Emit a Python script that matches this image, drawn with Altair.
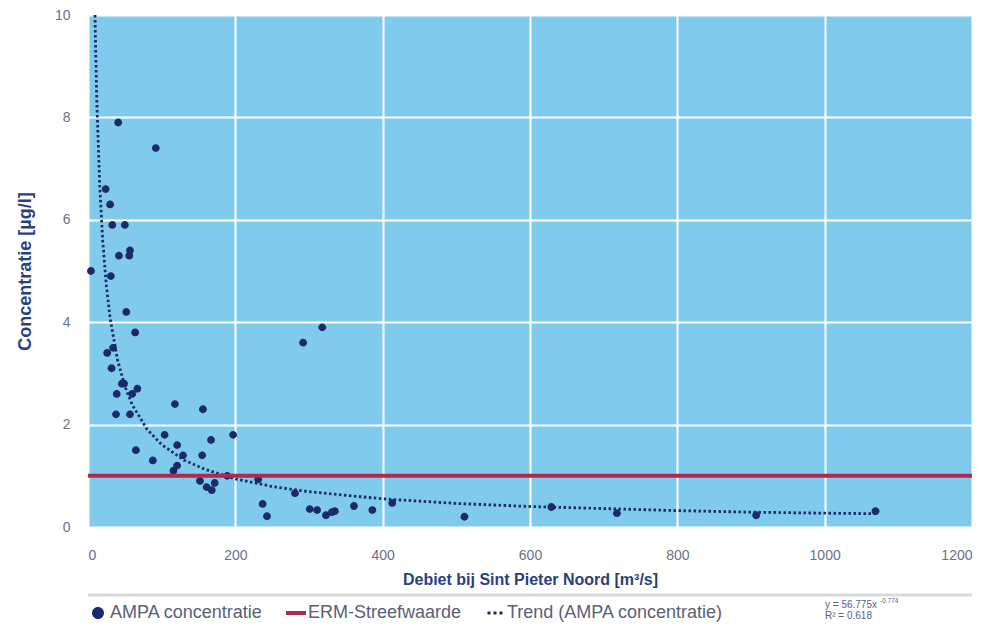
import altair as alt
import pandas as pd

# Scatter data: AMPA concentration vs discharge
flow = [4, 41, 92, 24, 30, 33, 50, 42, 56, 57, 31, 52, 64,
        26, 34, 32, 46, 49, 39, 60, 67, 38, 57, 65, 88, 104, 118, 121, 129, 121, 116,
        156, 167, 155, 152, 161, 168, 172, 197, 189, 231, 237, 243, 281, 292, 318,
        301, 311, 323, 331, 335, 361, 386, 413, 511, 629, 718, 907, 1069]
conc = [5.0, 7.9, 7.4, 6.6, 6.3, 5.9, 5.9, 5.3, 5.3, 5.4, 4.9, 4.2, 3.8,
        3.4, 3.5, 3.1, 2.8, 2.8, 2.6, 2.6, 2.7, 2.2, 2.2, 1.5, 1.3, 1.8, 2.4, 1.6, 1.4, 1.2, 1.1,
        2.3, 1.7, 1.4, 0.9, 0.78, 0.72, 0.86, 1.8, 1.0, 0.93, 0.45, 0.21, 0.66, 3.6, 3.9,
        0.35, 0.33, 0.23, 0.29, 0.31, 0.41, 0.33, 0.47, 0.2, 0.39, 0.27, 0.23, 0.31]

# Trend line (power fit) points
trend_x = [9.5, 10, 12, 16, 20, 25, 30, 40, 50, 60, 80, 100, 130, 160, 200, 250,
           300, 400, 500, 600, 700, 800, 900, 1000, 1070]
trend_y = [10.0, 9.56, 8.30, 6.64, 5.59, 4.70, 4.08, 3.27, 2.75, 2.39, 1.91, 1.61,
           1.31, 1.12, 0.94, 0.79, 0.69, 0.55, 0.46, 0.40, 0.36, 0.32, 0.29, 0.27, 0.26]

# ERM target value
erm_value = [1.0]

series_labels = ["AMPA concentratie", "ERM-Streefwaarde", "Trend (AMPA concentratie)"]
series_colors = ["#1B2A6B", "#B3294A", "#1B2A6B"]

x_ticks = [0, 200, 400, 600, 800, 1000, 1200]
y_ticks = [0, 2, 4, 6, 8, 10]

FONT = "Liberation Sans, Arial, sans-serif"
BG = "#80CBEC"
NAVY = "#1B2A6B"
TITLE_C = "#2B3F7C"
LABEL_C = "#6B7088"
LEG_C = "#596176"

pts = pd.DataFrame({"flow": flow, "conc": conc, "series": series_labels[0]})
trend = pd.DataFrame({"flow": trend_x, "conc": trend_y})
erm = pd.DataFrame({"conc": erm_value})

circle_path = "M0.6,0A0.6,0.6 0 1,1 -0.6,0A0.6,0.6 0 1,1 0.6,0Z"
bar_path = "M-1,-0.2H1V0.2H-1Z"
dots_path = ("M-0.75,-0.15h0.3v0.3h-0.3z M-0.15,-0.15h0.3v0.3h-0.3z "
             "M0.45,-0.15h0.3v0.3h-0.3z")

xscale = alt.Scale(domain=[0, 1200], nice=False)
yscale = alt.Scale(domain=[0, 10], nice=False)

xaxis = alt.Axis(values=x_ticks, format="d", title="Debiet bij Sint Pieter Noord [m³/s]",
                 grid=True, gridColor="white", gridWidth=2, domain=False, ticks=False,
                 labelPadding=21, labelFontSize=14, labelColor=LABEL_C, labelFont=FONT,
                 titleFont=FONT, titleFontSize=16, titleColor=TITLE_C, titleFontWeight="bold",
                 titlePadding=9)
yaxis = alt.Axis(values=y_ticks, format="d", title="Concentratie [µg/l]",
                 grid=True, gridColor="white", gridWidth=2, domain=False, ticks=False,
                 labelPadding=18, labelFontSize=14, labelColor=LABEL_C, labelFont=FONT,
                 titleFont=FONT, titleFontSize=18, titleColor=TITLE_C, titleFontWeight="bold",
                 titlePadding=20)

points = alt.Chart(pts).mark_point(filled=True, size=170, opacity=1).encode(
    x=alt.X("flow:Q", scale=xscale, axis=xaxis),
    y=alt.Y("conc:Q", scale=yscale, axis=yaxis),
    color=alt.Color("series:N",
                    scale=alt.Scale(domain=series_labels, range=series_colors),
                    legend=alt.Legend(title=None, orient="none", legendX=0, legendY=588,
                                      direction="horizontal", columns=3,
                                      columnPadding=23, symbolSize=400,
                                      labelFont=FONT, labelFontSize=18,
                                      labelColor=LEG_C, labelOffset=2,
                                      labelLimit=400, symbolStrokeWidth=0,
                                      labelExpr="datum.label == 'AMPA concentratie' ? "
                                                "'AMPA concentratie\u2003\u2003' : datum.label")),
    shape=alt.Shape("series:N",
                    scale=alt.Scale(domain=series_labels,
                                    range=[circle_path, bar_path, dots_path]),
                    legend=None),
)

erm_rule = alt.Chart(erm).mark_rule(color="#B3294A", strokeWidth=4).encode(
    y=alt.Y("conc:Q", scale=yscale)
)

trend_line = alt.Chart(trend).mark_line(color=NAVY, strokeWidth=2.8,
                                        strokeDash=[2.5, 2.5], clip=True).encode(
    x=alt.X("flow:Q", scale=xscale),
    y=alt.Y("conc:Q", scale=yscale),
)

sep = alt.Chart(erm).mark_rule(color="#D9D9D9", strokeWidth=3, clip=False).encode(
    x=alt.value(0), x2=alt.value(884), y=alt.value(580)
)

eq1 = alt.Chart(erm).mark_text(align="left", baseline="middle", fontSize=10, font=FONT,
                               color=LEG_C, clip=False).encode(
    x=alt.value(737), y=alt.value(590), text=alt.value("y = 56.775x")
)
eq_sup = alt.Chart(erm).mark_text(align="left", baseline="middle", fontSize=6.5, font=FONT,
                                  color=LEG_C, clip=False).encode(
    x=alt.value(792), y=alt.value(586), text=alt.value("-0.774")
)
eq2 = alt.Chart(erm).mark_text(align="left", baseline="middle", fontSize=10, font=FONT,
                               color=LEG_C, clip=False).encode(
    x=alt.value(737), y=alt.value(601), text=alt.value("R² = 0.618")
)

chart = alt.layer(points, trend_line, erm_rule, sep, eq1, eq_sup, eq2).properties(
    width=884, height=512,
    padding={"left": 80, "top": 7, "right": 4, "bottom": 96},
    autosize=alt.AutoSizeParams(type="none"),
    background="white",
).configure_view(fill=BG, stroke=None)

chart.save("out.html", embed_options={"renderer": "svg", "actions": False})
